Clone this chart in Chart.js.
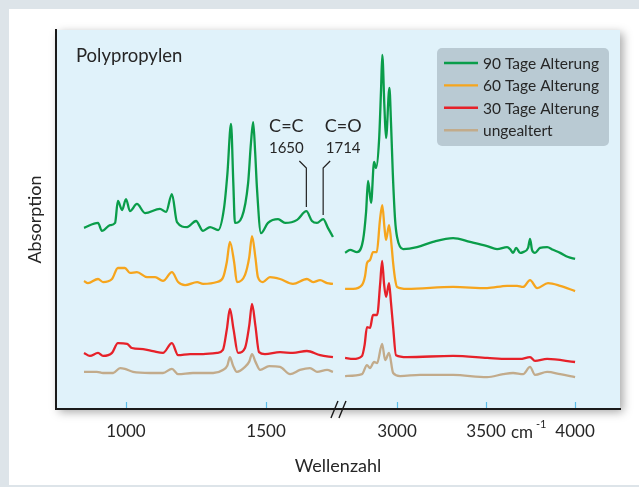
<!DOCTYPE html>
<html>
<head>
<meta charset="utf-8">
<script src="https://cdn.jsdelivr.net/npm/chart.js@4.4.1/dist/chart.umd.min.js"></script>
<style>
  html, body { margin: 0; padding: 0; }
  body { width: 639px; height: 487px; background: #dde4e9; position: relative; overflow: hidden; }
  #karte { position: absolute; left: 9px; top: 9px; width: 630px; height: 476px; background: #fff; }
  #rahmen { position: absolute; left: 0; top: 0; width: 639px; height: 487px; }
</style>
</head>
<body>
<div id="karte"></div>
<div id="rahmen"><canvas id="spektrum" width="639" height="487"></canvas></div>
<script>
// Wellenzahl in cm-1, Absorption in willkuerlichen Einheiten (versetzt dargestellt)
// null trennt den Bereich 850-1740 vom Bereich 2700-4000 (Achsenbruch)
const wn90 = [850, 900, 914, 943, 961, 971, 986, 1000, 1014, 1039, 1068, 1121, 1143, 1164, 1182, 1218, 1250, 1275, 1300, 1329, 1350, 1362, 1375, 1383, 1389, 1414, 1436, 1446, 1454, 1461, 1468, 1482, 1507, 1543, 1568, 1611, 1644, 1664, 1682, 1704, 1721, 1739,
  2000,
  2708, 2736, 2775, 2809, 2826, 2837, 2854, 2871, 2882, 2899, 2910, 2917, 2929, 2938, 2957, 2966, 2976, 2989, 3000, 3034, 3112, 3202, 3315, 3410, 3506, 3562, 3618, 3635, 3652, 3669, 3691, 3708, 3736, 3747, 3758, 3775, 3803, 3843, 3876, 3916, 3961, 4000];
const abs90 = [47.8, 49.1, 47.0, 48.5, 49.1, 54.9, 52.5, 55.4, 52.2, 54.1, 51.7, 52.8, 52.0, 56.7, 49.3, 48.0, 49.6, 47.0, 48.0, 47.2, 53.0, 62.0, 75.2, 60.0, 49.1, 50.7, 59.6, 70.0, 75.7, 68.0, 57.8, 46.4, 49.1, 50.1, 49.1, 49.9, 52.2, 49.6, 49.1, 50.1, 47.8, 45.4,
  null,
  41.2, 42.0, 41.4, 44.6, 52.0, 60.2, 54.4, 65.2, 63.6, 71.0, 84.2, 93.4, 79.7, 71.5, 84.7, 75.5, 62.3, 49.9, 45.4, 42.2, 42.7, 44.1, 45.1, 44.1, 43.0, 42.2, 42.7, 42.2, 41.2, 42.5, 41.2, 41.4, 42.5, 44.9, 42.0, 41.2, 42.5, 42.7, 42.0, 41.2, 40.1, 39.6];

const wn60 = [850, 864, 900, 918, 950, 971, 996, 1014, 1039, 1075, 1104, 1132, 1164, 1186, 1211, 1254, 1275, 1325, 1346, 1360, 1371, 1386, 1396, 1425, 1440, 1450, 1462, 1471, 1489, 1514, 1550, 1596, 1646, 1668, 1693, 1718, 1739,
  2000,
  2708, 2753, 2803, 2820, 2831, 2848, 2865, 2886, 2904, 2917, 2929, 2938, 2955, 2970, 2978, 2990, 3000, 3056, 3315, 3506, 3618, 3674, 3708, 3747, 3787, 3848, 3916, 4000];
const abs60 = [33.8, 33.2, 34.3, 33.5, 34.3, 37.2, 37.2, 35.9, 36.1, 34.8, 34.8, 33.8, 36.1, 33.5, 32.7, 33.5, 33.0, 33.5, 34.6, 38.8, 44.1, 38.8, 33.5, 35.4, 40.0, 45.6, 40.0, 34.8, 33.5, 34.8, 34.3, 33.0, 34.3, 33.5, 34.0, 33.2, 33.0,
  null,
  31.7, 31.7, 32.7, 35.0, 38.5, 39.3, 41.4, 41.4, 49.9, 53.8, 48.0, 44.6, 48.5, 42.7, 38.5, 34.0, 32.2, 31.7, 32.2, 31.9, 32.5, 32.5, 32.2, 34.0, 31.9, 33.2, 32.5, 31.1];

const wn30 = [850, 871, 900, 918, 950, 971, 1004, 1021, 1061, 1096, 1132, 1164, 1186, 1229, 1275, 1325, 1346, 1360, 1371, 1384, 1400, 1425, 1440, 1450, 1462, 1475, 1496, 1550, 1596, 1646, 1693, 1739,
  2000,
  2708, 2753, 2803, 2818, 2831, 2848, 2865, 2888, 2905, 2916, 2927, 2938, 2955, 2966, 2978, 2994, 3056, 3315, 3506, 3618, 3691, 3747, 3775, 3843, 4000];
const abs30 = [14.8, 14.0, 14.8, 14.0, 14.8, 17.4, 17.2, 16.1, 15.8, 15.3, 14.8, 17.4, 14.2, 14.5, 14.5, 14.8, 15.6, 21.0, 26.4, 21.0, 14.8, 16.1, 22.0, 27.7, 22.0, 15.0, 14.5, 15.0, 14.8, 15.3, 14.2, 13.7,
  null,
  13.5, 13.2, 14.0, 17.0, 21.6, 21.4, 24.8, 24.8, 33.0, 39.1, 33.0, 29.6, 33.2, 28.0, 21.6, 14.2, 13.7, 14.0, 13.5, 13.2, 13.2, 13.7, 12.7, 13.2, 12.4];

const wn0 = [850, 896, 918, 954, 979, 996, 1025, 1086, 1132, 1164, 1186, 1239, 1311, 1346, 1362, 1371, 1382, 1396, 1425, 1440, 1450, 1462, 1479, 1511, 1550, 1586, 1621, 1657, 1682, 1718, 1739,
  2000,
  2708, 2803, 2831, 2848, 2871, 2888, 2916, 2933, 2955, 2978, 3017, 3129, 3315, 3506, 3596, 3652, 3708, 3747, 3775, 3843, 3916, 4000];
const abs0 = [9.8, 9.8, 9.5, 9.5, 10.8, 10.6, 9.8, 9.5, 9.5, 10.6, 9.2, 9.5, 9.5, 10.3, 11.5, 13.7, 11.5, 9.8, 11.1, 12.5, 14.5, 12.5, 10.3, 11.3, 11.1, 9.2, 10.3, 10.8, 9.8, 10.3, 9.8,
  null,
  8.7, 9.2, 11.6, 10.8, 12.4, 12.1, 17.2, 12.9, 14.8, 9.5, 8.7, 9.0, 9.0, 8.4, 9.2, 9.5, 9.2, 11.1, 9.0, 9.8, 9.2, 8.4];

const serienNamen = ['90 Tage Alterung', '60 Tage Alterung', '30 Tage Alterung', 'ungealtert'];
const serienFarben = ['#0a9d4a', '#f6a51d', '#e62129', '#c2ab8b'];

const tickWn = [1000, 1500, 3000, 3500, 4000];
const tickText = ['1000', '1500', '3000', '3500', '4000'];

const bandenWn = [1644, 1704];
const bandenName = ['C=C', 'C=O'];
const bandenZahl = ['1650', '1714'];

// gebrochene Achse: links 1 Einheit je cm-1, rechts gestaucht
function achse(w) {
  return w < 2200 ? w : 1967.9 + (w - 3000) * 0.6357;
}

function punkte(wn, abs) {
  return wn.map((w, i) => ({ x: achse(w), y: abs[i] }));
}

const FONT = 'Lato, "Open Sans", sans-serif';
const TEXT = '#262626';

const deko = {
  id: 'deko',
  beforeDraw(chart) {
    const { ctx, chartArea: a } = chart;
    ctx.save();
    ctx.shadowColor = 'rgba(0,0,0,0.35)';
    ctx.shadowBlur = 9;
    ctx.shadowOffsetX = 3;
    ctx.shadowOffsetY = 3;
    ctx.fillStyle = '#e0f2fa';
    ctx.fillRect(a.left, a.top, a.right - a.left, a.bottom - a.top);
    ctx.restore();
  },
  afterDraw(chart) {
    const { ctx, chartArea: a } = chart;
    const sx = chart.scales.x, sy = chart.scales.y;
    ctx.save();

    // kleine Striche nach innen
    ctx.strokeStyle = '#5bbde9';
    ctx.lineWidth = 1.2;
    tickWn.forEach(w => {
      const px = Math.round(sx.getPixelForValue(achse(w))) + 0.5;
      ctx.beginPath();
      ctx.moveTo(px, a.bottom - 1);
      ctx.lineTo(px, a.bottom - 7);
      ctx.stroke();
    });

    // Achsenbruch //
    const bx = sx.getPixelForValue((achse(1740) + achse(2700)) / 2);
    ctx.strokeStyle = '#1a1a1a';
    ctx.lineWidth = 1.4;
    [-4, 4].forEach(d => {
      ctx.beginPath();
      ctx.moveTo(bx + d - 3.5, a.bottom + 9);
      ctx.lineTo(bx + d + 3.5, a.bottom - 8);
      ctx.stroke();
    });

    // Bandenzuordnung
    ctx.strokeStyle = '#222';
    ctx.lineWidth = 1.2;
    ctx.fillStyle = TEXT;
    ctx.textBaseline = 'alphabetic';
    ctx.textAlign = 'center';
    const yKnick = sy.getPixelForValue(63.6);
    const yEnde = [sy.getPixelForValue(53.3), sy.getPixelForValue(51.2)];
    bandenWn.forEach((w, i) => {
      const px = sx.getPixelForValue(achse(w));
      const dir = i === 0 ? -1 : 1;
      ctx.beginPath();
      ctx.moveTo(px + dir * 7, yKnick - 7);
      ctx.lineTo(px, yKnick);
      ctx.lineTo(px, yEnde[i]);
      ctx.stroke();
      const tx = px + dir * 20;
      ctx.font = '18px ' + FONT;
      ctx.fillText(bandenName[i], tx, 132);
      ctx.font = '15px ' + FONT;
      ctx.fillText(bandenZahl[i], tx, 153);
    });

    // Titel im Diagramm
    ctx.textAlign = 'left';
    ctx.font = '18.5px ' + FONT;
    ctx.fillText('Polypropylen', 76, 62);

    // Einheit an der x-Achse
    ctx.font = '17px ' + FONT;
    ctx.fillText('cm', 511, 438);
    ctx.font = '11px ' + FONT;
    ctx.fillText('-1', 536, 428);

    // Legende
    const lx = 437, ly = 48, lw = 172, lh = 98, r = 5;
    ctx.fillStyle = '#b9cad3';
    ctx.beginPath();
    ctx.moveTo(lx + r, ly);
    ctx.arcTo(lx + lw, ly, lx + lw, ly + lh, r);
    ctx.arcTo(lx + lw, ly + lh, lx, ly + lh, r);
    ctx.arcTo(lx, ly + lh, lx, ly, r);
    ctx.arcTo(lx, ly, lx + lw, ly, r);
    ctx.closePath();
    ctx.fill();
    ctx.font = '15.5px ' + FONT;
    ctx.textBaseline = 'middle';
    chart.data.datasets.forEach((ds, i) => {
      const y = 63 + i * 22.4;
      ctx.strokeStyle = ds.borderColor;
      ctx.lineWidth = 2.4;
      ctx.beginPath();
      ctx.moveTo(444, y);
      ctx.lineTo(478, y);
      ctx.stroke();
      ctx.fillStyle = TEXT;
      ctx.fillText(ds.label, 483, y + 1);
    });
    ctx.restore();
  }
};

const reihen = [[wn90, abs90], [wn60, abs60], [wn30, abs30], [wn0, abs0]];

new Chart(document.getElementById('spektrum'), {
  type: 'line',
  data: {
    datasets: reihen.map((r, i) => ({
      label: serienNamen[i],
      data: punkte(r[0], r[1]),
      borderColor: serienFarben[i],
      borderWidth: 2.3,
      pointRadius: 0,
      cubicInterpolationMode: 'monotone',
      spanGaps: false,
      fill: false
    }))
  },
  options: {
    responsive: false,
    animation: false,
    layout: { padding: { left: 0, top: 30, right: 19, bottom: 0 } },
    plugins: { legend: { display: false }, tooltip: { enabled: false } },
    scales: {
      x: {
        type: 'linear',
        min: 750,
        max: 2764,
        afterBuildTicks: s => { s.ticks = tickWn.map(w => ({ value: achse(w) })); },
        afterFit: s => { s.height = 78; },
        grid: { display: true, drawOnChartArea: false, drawTicks: false, color: 'rgba(0,0,0,0)' },
        border: { display: true, color: '#1a1a1a', width: 2 },
        ticks: {
          autoSkip: false, maxRotation: 0, padding: 12,
          color: TEXT, font: { family: FONT, size: 17 },
          callback: (v, i) => tickText[i]
        },
        title: { display: true, text: 'Wellenzahl', color: TEXT, font: { family: FONT, size: 18 }, padding: { top: 0, bottom: 10 } }
      },
      y: {
        min: 0,
        max: 100,
        afterFit: s => { s.width = 56; },
        grid: { display: true, drawOnChartArea: false, drawTicks: false, color: 'rgba(0,0,0,0)' },
        border: { display: true, color: '#1a1a1a', width: 2 },
        ticks: { display: false },
        title: { display: true, text: 'Absorption', color: TEXT, font: { family: FONT, size: 18 }, padding: { top: 24, bottom: 0 } }
      }
    }
  },
  plugins: [deko]
});
</script>
</body>
</html>
